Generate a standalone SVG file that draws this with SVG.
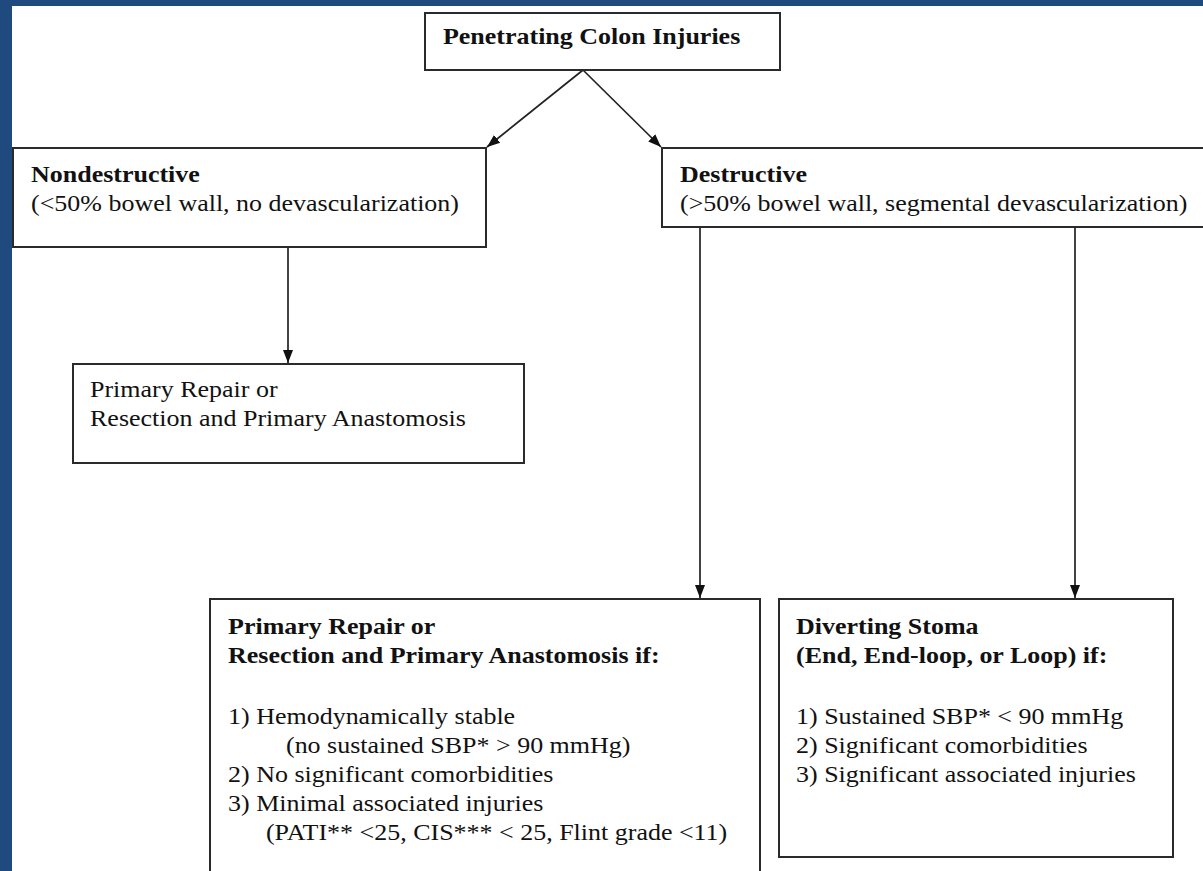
<svg xmlns="http://www.w3.org/2000/svg" width="1203" height="871" viewBox="0 0 1203 871">
  <style>
    .box { fill: #ffffff; stroke: #2a2a2a; stroke-width: 2; }
    .t { font-family: "Liberation Serif", "Times New Roman", serif; font-size: 24px; fill: #111111; transform: scale(1.0833, 1); }
    .b { font-weight: bold; }
    .conn { stroke: #222222; stroke-width: 1.7; fill: none; marker-end: url(#arrow); }
  </style>
  <defs>
    <marker id="arrow" markerUnits="userSpaceOnUse" markerWidth="14" markerHeight="14" viewBox="0 0 14 14" refX="13" refY="7" orient="auto">
      <path d="M0,2 L13,7 L0,12 Z" fill="#111111"/>
    </marker>
  </defs>

  <rect x="0" y="0" width="1203" height="871" fill="#ffffff"/>
  <rect id="frame-top" x="0" y="0" width="1203" height="6" fill="#1f4a7e"/>
  <rect id="frame-left" x="0" y="0" width="12" height="871" fill="#1f4a7e"/>

  <g id="connectors">
    <line class="conn" x1="583" y1="70" x2="487" y2="147"/>
    <line class="conn" x1="583" y1="70" x2="661" y2="147"/>
    <line class="conn" x1="288" y1="247" x2="288" y2="363"/>
    <line class="conn" x1="700" y1="227" x2="700" y2="598"/>
    <line class="conn" x1="1075" y1="227" x2="1075" y2="598"/>
  </g>

  <g id="node-root">
    <rect class="box" x="425" y="13" width="355" height="57"/>
    <text class="t b" x="408.9" y="44">Penetrating Colon Injuries</text>
  </g>

  <g id="node-nondestructive">
    <rect class="box" x="13" y="148" width="473" height="99"/>
    <text class="t b" x="28.6" y="182">Nondestructive</text>
    <text class="t" x="28.6" y="211">(&lt;50% bowel wall, no devascularization)</text>
  </g>

  <g id="node-destructive">
    <rect class="box" x="662" y="148" width="560" height="79"/>
    <text class="t b" x="627.7" y="182">Destructive</text>
    <text class="t" x="627.7" y="211">(&gt;50% bowel wall, segmental devascularization)</text>
  </g>

  <g id="node-primary-repair">
    <rect class="box" x="73" y="364" width="451" height="99"/>
    <text class="t" x="83.1" y="397">Primary Repair or</text>
    <text class="t" x="83.1" y="426">Resection and Primary Anastomosis</text>
  </g>

  <g id="node-primary-repair-if">
    <rect class="box" x="210" y="599" width="550" height="300"/>
    <text class="t b" x="210.5" y="634">Primary Repair or</text>
    <text class="t b" x="210.5" y="663">Resection and Primary Anastomosis if:</text>
    <text class="t" x="210.5" y="724">1) Hemodynamically stable</text>
    <text class="t" x="264" y="753">(no sustained SBP* &gt; 90 mmHg)</text>
    <text class="t" x="210.5" y="782">2) No significant comorbidities</text>
    <text class="t" x="210.5" y="811">3) Minimal associated injuries</text>
    <text class="t" x="245.5" y="840">(PATI** &lt;25, CIS*** &lt; 25, Flint grade &lt;11)</text>
  </g>

  <g id="node-diverting-stoma">
    <rect class="box" x="779" y="599" width="394" height="258"/>
    <text class="t b" x="734.8" y="634">Diverting Stoma</text>
    <text class="t b" x="734.8" y="663">(End, End-loop, or Loop) if:</text>
    <text class="t" x="734.8" y="724">1) Sustained SBP* &lt; 90 mmHg</text>
    <text class="t" x="734.8" y="753">2) Significant comorbidities</text>
    <text class="t" x="734.8" y="782">3) Significant associated injuries</text>
  </g>
</svg>
